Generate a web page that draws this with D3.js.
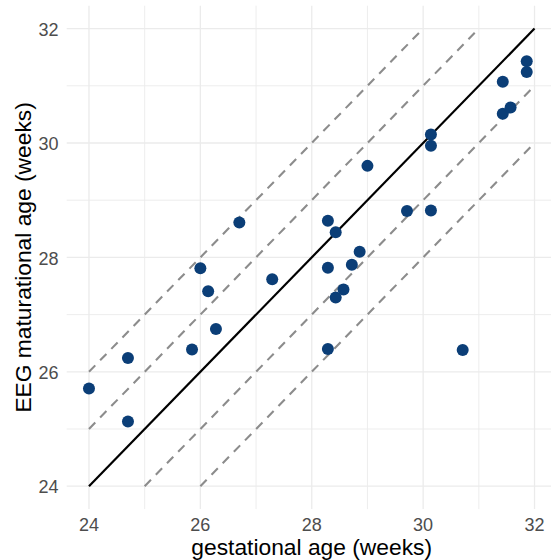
<!DOCTYPE html>
<html>
<head>
<meta charset="utf-8">
<script src="https://cdn.jsdelivr.net/npm/d3@7"></script>
<style>
body { margin: 0; background: #fff; }
svg { display: block; font-family: "Liberation Sans", Arial, sans-serif; }
</style>
</head>
<body>
<script>
// gestational age vs EEG maturational age (weeks)
var gestAge = [24.0, 24.7, 24.7, 25.85, 26.0, 26.14, 26.28, 26.7, 27.29,
  28.29, 28.29, 28.29, 28.43, 28.43, 28.57, 28.72, 28.86, 29.0, 29.71,
  30.14, 30.14, 30.14, 30.71, 31.43, 31.43, 31.57, 31.86, 31.86];
var eegAge = [25.71, 26.24, 25.13, 26.39, 27.81, 27.41, 26.75, 28.61, 27.62,
  28.64, 27.82, 26.4, 28.44, 27.3, 27.44, 27.87, 28.1, 29.6, 28.81,
  30.15, 29.95, 28.82, 26.38, 31.07, 30.51, 30.62, 31.43, 31.24];
// reference lines: y = x + offset
var offsets = [-2, -1, 0, 1, 2];
var xTicks = [24, 26, 28, 30, 32];
var yTicks = [24, 26, 28, 30, 32];
var minorTicks = [25, 27, 29, 31];

var width = 551, height = 560;
var svg = d3.select('body').append('svg')
  .attr('width', width).attr('height', height);

var x = d3.scaleLinear().domain([23.6, 32.4]).range([66.7, 556.8]);
var y = d3.scaleLinear().domain([23.6, 32.4]).range([509.1, 5.7]);

var grid = svg.append('g');
minorTicks.forEach(function(t) {
  grid.append('line').attr('x1', x(t)).attr('x2', x(t))
    .attr('y1', y.range()[0]).attr('y2', y.range()[1])
    .attr('stroke', '#ebebeb').attr('stroke-width', 0.9);
  grid.append('line').attr('y1', y(t)).attr('y2', y(t))
    .attr('x1', x.range()[0]).attr('x2', x.range()[1])
    .attr('stroke', '#ebebeb').attr('stroke-width', 0.9);
});
xTicks.forEach(function(t) {
  grid.append('line').attr('x1', x(t)).attr('x2', x(t))
    .attr('y1', y.range()[0]).attr('y2', y.range()[1])
    .attr('stroke', '#ebebeb').attr('stroke-width', 1.3);
});
yTicks.forEach(function(t) {
  grid.append('line').attr('y1', y(t)).attr('y2', y(t))
    .attr('x1', x.range()[0]).attr('x2', x.range()[1])
    .attr('stroke', '#ebebeb').attr('stroke-width', 1.3);
});

// diagonal lines, clipped to 24..32 box
offsets.forEach(function(o) {
  var x0 = Math.max(24, 24 - o), x1 = Math.min(32, 32 - o);
  svg.append('line')
    .attr('x1', x(x0)).attr('y1', y(x0 + o))
    .attr('x2', x(x1)).attr('y2', y(x1 + o))
    .attr('stroke', o === 0 ? '#000' : '#8c8c8c')
    .attr('stroke-width', o === 0 ? 2.2 : 2.1)
    .attr('stroke-dasharray', o === 0 ? null : '9,7');
});

svg.append('g').selectAll('circle')
  .data(gestAge)
  .join('circle')
  .attr('cx', function(d) { return x(d); })
  .attr('cy', function(d, i) { return y(eegAge[i]); })
  .attr('r', 6)
  .attr('fill', '#0b3e77');

// tick labels
svg.append('g').selectAll('text')
  .data(xTicks).join('text')
  .text(function(d) { return d; })
  .attr('x', function(d) { return x(d); })
  .attr('y', 530.5)
  .attr('text-anchor', 'middle')
  .attr('fill', '#4d4d4d')
  .style('font-size', '18px');

svg.append('g').selectAll('text')
  .data(yTicks).join('text')
  .text(function(d) { return d; })
  .attr('x', 58.5)
  .attr('y', function(d) { return y(d) + 7.2; })
  .attr('text-anchor', 'end')
  .attr('fill', '#4d4d4d')
  .style('font-size', '18px');

svg.append('text')
  .text('gestational age (weeks)')
  .attr('x', 311.7).attr('y', 555)
  .attr('text-anchor', 'middle')
  .style('font-size', '22.8px');

svg.append('text')
  .text('EEG maturational age (weeks)')
  .attr('transform', 'translate(31,257.4) rotate(-90)')
  .attr('text-anchor', 'middle')
  .style('font-size', '22.8px');
</script>
</body>
</html>
